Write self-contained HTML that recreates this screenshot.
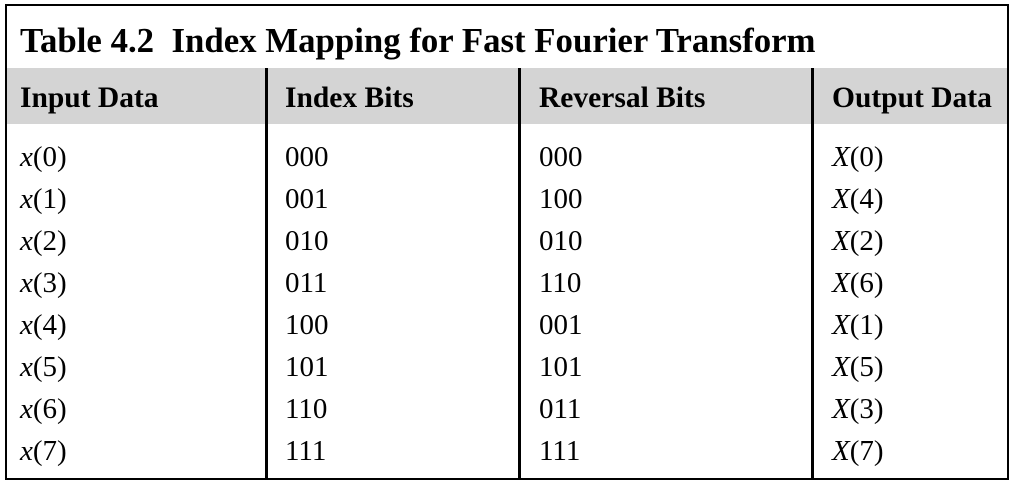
<!DOCTYPE html>
<html><head><style>
body{margin:0;width:1015px;height:486px;background:#fff;position:relative;font-family:"Liberation Serif",serif;color:#000;overflow:hidden}
.b{position:absolute;background:#000}
.t{position:absolute;white-space:nowrap;line-height:1}
.h{font-weight:bold;font-size:29.5px}
.r{font-size:29px}
</style></head><body>
<div style="position:absolute;left:5px;top:4px;width:1000px;height:472px;border:2.5px solid #000"></div>
<div style="position:absolute;left:7px;top:68px;width:1000px;height:56px;background:#d4d4d4"></div>
<div class="b" style="left:265px;top:68px;width:2.5px;height:410px"></div>
<div class="b" style="left:518px;top:68px;width:2.5px;height:410px"></div>
<div class="b" style="left:811px;top:68px;width:2.5px;height:410px"></div>
<div class="t" style="left:20px;top:24px;font-weight:bold;font-size:34.8px">Table 4.2&nbsp; Index Mapping for Fast Fourier Transform</div>
<div class="t h" style="left:20px;top:84px">Input Data</div>
<div class="t h" style="left:285px;top:84px">Index Bits</div>
<div class="t h" style="left:539px;top:84px">Reversal Bits</div>
<div class="t h" style="left:832px;top:84px">Output Data</div>
<div id="rows"></div>
<script>
var a=["000","001","010","011","100","101","110","111"],b=["000","100","010","110","001","101","011","111"],o=[0,4,2,6,1,5,3,7],h="";
for(var i=0;i<8;i++){var y=143+i*42;
h+='<div class="t r" style="left:20px;top:'+y+'px"><i>x</i>('+i+')</div>';
h+='<div class="t r" style="left:285px;top:'+y+'px">'+a[i]+'</div>';
h+='<div class="t r" style="left:539px;top:'+y+'px">'+b[i]+'</div>';
h+='<div class="t r" style="left:832px;top:'+y+'px"><i>X</i>('+o[i]+')</div>';}
document.getElementById("rows").innerHTML=h;
</script>
</body></html>
